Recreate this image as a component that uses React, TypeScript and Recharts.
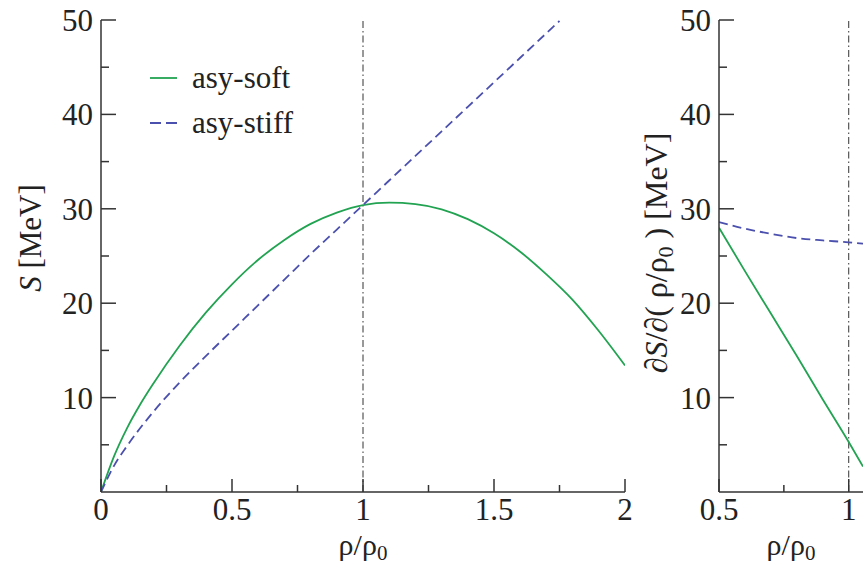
import React from 'react';
import { LineChart, Line, XAxis, YAxis, ReferenceLine, Legend } from 'recharts';

// Symmetry energy S(rho) for the two parametrisations
const RHO_SOFT = [0, 0.05, 0.1, 0.15, 0.2, 0.3, 0.4, 0.5, 0.6, 0.7, 0.8, 0.9, 1.0, 1.1, 1.2, 1.3, 1.4, 1.5, 1.6, 1.7, 1.8, 1.9, 2.0];
const S_SOFT = [0, 3.8, 6.8, 9.3, 11.5, 15.5, 19.0, 22.0, 24.6, 26.7, 28.4, 29.6, 30.4, 30.65, 30.5, 29.95, 28.9, 27.4, 25.45, 23.05, 20.35, 17.05, 13.4];

const RHO_STIFF = [0, 0.05, 0.1, 0.2, 0.3, 0.4, 0.5, 0.6, 0.7, 0.8, 0.9, 1.0, 1.1, 1.2, 1.3, 1.4, 1.5, 1.6, 1.7, 1.75];
const S_STIFF = [0, 2.8, 4.9, 8.5, 11.6, 14.4, 17.1, 19.8, 22.5, 25.2, 27.8, 30.4, 33.0, 35.6, 38.2, 40.8, 43.4, 46.0, 48.6, 49.9];

// Slope dS/d(rho/rho0), right panel
const RHO_DERIV = [0.5, 0.6, 0.7, 0.8, 0.9, 1.0, 1.055];
const DS_SOFT = [28.0, 23.4, 18.9, 14.4, 9.8, 5.3, 2.7];
const DS_STIFF = [28.6, 27.9, 27.35, 26.9, 26.65, 26.45, 26.3];

// Axis ticks (majors get a label, the rest are minor)
const Y_TICKS = [5, 10, 15, 20, 25, 30, 35, 40, 45, 50];
const X_TICKS_LEFT = [0, 0.25, 0.5, 0.75, 1, 1.25, 1.5, 1.75, 2];
const X_TICKS_RIGHT = [0.5, 0.75, 1];

const SERIES_NAMES = ['asy-soft', 'asy-stiff'];

const GREEN = '#22a352';
const BLUE = '#4b50ae';
const AXIS = '#333333';
const FONT = '"Liberation Serif", "Times New Roman", serif';
const FS = 31;

const toRows = (xs: number[], ys: number[]) => xs.map((x, i) => ({ x, y: ys[i] }));

const softRows = toRows(RHO_SOFT, S_SOFT);
const stiffRows = toRows(RHO_STIFF, S_STIFF);
const dSoftRows = toRows(RHO_DERIV, DS_SOFT);
const dStiffRows = toRows(RHO_DERIV, DS_STIFF);

const YTick = ({ x, y, payload }: any) => {
  const major = payload.value % 10 === 0;
  return (
    <g>
      <line x1={x} x2={x + (major ? 15 : 8)} y1={y} y2={y} stroke={AXIS} strokeWidth={1.5} />
      {major && (
        <text x={x - 8} y={y + 11} textAnchor="end" fontFamily={FONT} fontSize={FS} fill="#222">
          {payload.value}
        </text>
      )}
    </g>
  );
};

const XTick = ({ x, y, payload }: any) => {
  const v = payload.value;
  const major = Math.abs(v * 2 - Math.round(v * 2)) < 1e-6;
  return (
    <g>
      <line x1={x} x2={x} y1={y} y2={y - (major ? 13 : 7)} stroke={AXIS} strokeWidth={1.5} />
      {major && (
        <text x={x} y={y + 28} textAnchor="middle" fontFamily={FONT} fontSize={FS} fill="#222">
          {v}
        </text>
      )}
    </g>
  );
};

const RhoTitle = ({ viewBox }: any) => {
  const cx = viewBox.x + viewBox.width / 2;
  return (
    <text x={cx} y={viewBox.y + 63} textAnchor="middle" fontFamily={FONT} fontSize={30} fill="#222">
      ρ/ρ<tspan fontSize={21} dy={5}>0</tspan>
    </text>
  );
};

const SLabel = ({ viewBox }: any) => {
  const bx = viewBox.x + 41;
  const cy = 238;
  return (
    <text x={bx} y={cy} transform={`rotate(-90, ${bx}, ${cy})`} textAnchor="middle" fontFamily={FONT} fontSize={FS} fill="#222">
      <tspan fontStyle="italic">S</tspan> [MeV]
    </text>
  );
};

const DSLabel = ({ viewBox }: any) => {
  const bx = viewBox.x + 37;
  const cy = 253;
  return (
    <text x={bx} y={cy} transform={`rotate(-90, ${bx}, ${cy})`} textAnchor="middle" fontFamily={FONT} fontSize={32} fill="#222">
      ∂<tspan fontStyle="italic">S</tspan>/∂( ρ/ρ<tspan fontSize={22} dy={6}>0</tspan><tspan dy={-6}> ) [MeV]</tspan>
    </text>
  );
};

const renderLegend = () => (
  <div style={{ fontFamily: FONT, fontSize: FS, color: '#222' }}>
    {SERIES_NAMES.map((name, i) => (
      <div key={name} style={{ display: 'flex', alignItems: 'center', height: 45 }}>
        <svg width={30} height={10} style={{ marginRight: 14 }}>
          <line
            x1={2}
            x2={29}
            y1={5}
            y2={5}
            stroke={i === 0 ? GREEN : BLUE}
            strokeWidth={1.8}
            strokeDasharray={i === 0 ? undefined : '11 5'}
          />
        </svg>
        <span>{name}</span>
      </div>
    ))}
  </div>
);

export default function App() {
  return (
    <div style={{ position: 'absolute', left: 0, top: 0, width: 863, height: 567, background: '#fff', overflow: 'hidden' }}>
      <div style={{ position: 'absolute', left: 0, top: 0 }}>
        <LineChart width={645} height={567} margin={{ top: 20, right: 20, bottom: 0, left: 0 }}>
          <XAxis
            type="number"
            dataKey="x"
            domain={[0, 2]}
            ticks={X_TICKS_LEFT}
            interval={0}
            allowDataOverflow
            height={75}
            tickSize={0}
            tickMargin={0}
            tick={<XTick />}
            axisLine={{ stroke: AXIS, strokeWidth: 1.5 }}
            label={<RhoTitle />}
          />
          <YAxis
            type="number"
            domain={[0, 50]}
            ticks={Y_TICKS}
            interval={0}
            allowDataOverflow
            width={101}
            tickSize={0}
            tickMargin={0}
            tick={<YTick />}
            axisLine={{ stroke: AXIS, strokeWidth: 1.5 }}
            label={<SLabel />}
          />
          <ReferenceLine x={1} stroke={AXIS} strokeWidth={1} strokeDasharray="7 3 1.5 3" />
          <Line data={softRows} dataKey="y" name="asy-soft" type="monotone" stroke={GREEN} strokeWidth={1.8} dot={false} activeDot={false} isAnimationActive={false} />
          <Line data={stiffRows} dataKey="y" name="asy-stiff" type="monotone" stroke={BLUE} strokeWidth={1.8} strokeDasharray="9 5" dot={false} activeDot={false} isAnimationActive={false} />
          <Legend
            layout="vertical"
            align="center"
            verticalAlign="middle"
            content={renderLegend}
            wrapperStyle={{ left: 148, top: 55, width: 'auto' }}
          />
        </LineChart>
      </div>
      <div style={{ position: 'absolute', left: 630, top: 0 }}>
        <LineChart width={233} height={567} margin={{ top: 20, right: 0, bottom: 0, left: 0 }}>
          <XAxis
            type="number"
            dataKey="x"
            domain={[0.5, 1.055]}
            ticks={X_TICKS_RIGHT}
            interval={0}
            allowDataOverflow
            height={75}
            tickSize={0}
            tickMargin={0}
            tick={<XTick />}
            axisLine={{ stroke: AXIS, strokeWidth: 1.5 }}
            label={<RhoTitle />}
          />
          <YAxis
            type="number"
            domain={[0, 50]}
            ticks={Y_TICKS}
            interval={0}
            allowDataOverflow
            width={89}
            tickSize={0}
            tickMargin={0}
            tick={<YTick />}
            axisLine={{ stroke: AXIS, strokeWidth: 1.5 }}
            label={<DSLabel />}
          />
          <ReferenceLine x={1} stroke={AXIS} strokeWidth={1} strokeDasharray="7 3 1.5 3" />
          <Line data={dSoftRows} dataKey="y" name="asy-soft" type="monotone" stroke={GREEN} strokeWidth={1.8} dot={false} activeDot={false} isAnimationActive={false} />
          <Line data={dStiffRows} dataKey="y" name="asy-stiff" type="monotone" stroke={BLUE} strokeWidth={1.8} strokeDasharray="9 5" dot={false} activeDot={false} isAnimationActive={false} />
        </LineChart>
      </div>
    </div>
  );
}
